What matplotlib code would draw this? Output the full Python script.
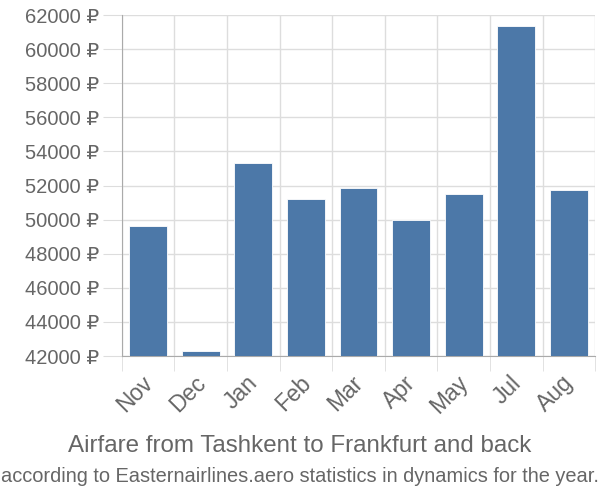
import matplotlib.pyplot as plt
import matplotlib.transforms as mtransforms
import numpy as np

plt.rcParams['font.family'] = ['Liberation Sans', 'DejaVu Sans']

months = ['Nov', 'Dec', 'Jan', 'Feb', 'Mar', 'Apr', 'May', 'Jul', 'Aug']
prices = [49650, 42320, 53320, 51210, 51850, 50000, 51500, 61330, 51740]
yticks = list(range(42000, 62001, 2000))

text_color = '#666666'
grid_color = '#dddddd'
bar_color = '#4c78a8'

fig = plt.figure(figsize=(6, 5), dpi=100)
ax = fig.add_axes([0.203, 0.288, 0.789, 0.682])

x = np.arange(len(months))
ax.bar(x, np.array(prices) - 42000, bottom=42000, width=0.72,
       color=bar_color, edgecolor='white', linewidth=0.6, zorder=3)

ax.set_xlim(-0.5, len(months) - 0.5)
ax.set_ylim(42000, 62000)

ax.set_yticks(yticks)
ax.set_yticklabels([f'{v} ₽' for v in yticks])
ax.set_xticks(x)
ax.set_xticklabels(months, rotation=45, ha='right', rotation_mode='anchor')
ax.set_xticks(np.arange(len(months) + 1) - 0.5, minor=True)

ax.tick_params(axis='y', length=14, color=grid_color, labelsize=14.5,
               labelcolor=text_color, pad=2)
ax.tick_params(axis='x', which='major', length=0, labelsize=16.5,
               labelcolor=text_color, pad=11)
ax.tick_params(axis='x', which='minor', length=11, color=grid_color)

# nudge the rotated month labels a little to the left
shift = mtransforms.ScaledTranslation(-5 / 72, 0, fig.dpi_scale_trans)
for lbl in ax.get_xticklabels():
    lbl.set_transform(lbl.get_transform() + shift)

ax.grid(True, axis='y', color=grid_color, linewidth=1, zorder=0)
ax.grid(True, axis='x', which='minor', color=grid_color, linewidth=1, zorder=0)

for side in ['top', 'right']:
    ax.spines[side].set_visible(False)
ax.spines['left'].set_color('#aaaaaa')
ax.spines['bottom'].set_color('#aaaaaa')

fig.text(0.5, 1 - 446 / 500, 'Airfare from Tashkent to Frankfurt and back',
         ha='center', va='center', fontsize=17.4, color=text_color)
fig.text(0.5, 1 - 476 / 500,
         'according to Easternairlines.aero statistics in dynamics for the year.',
         ha='center', va='center', fontsize=14.4, color=text_color)

fig.savefig('out.png', dpi=100)
